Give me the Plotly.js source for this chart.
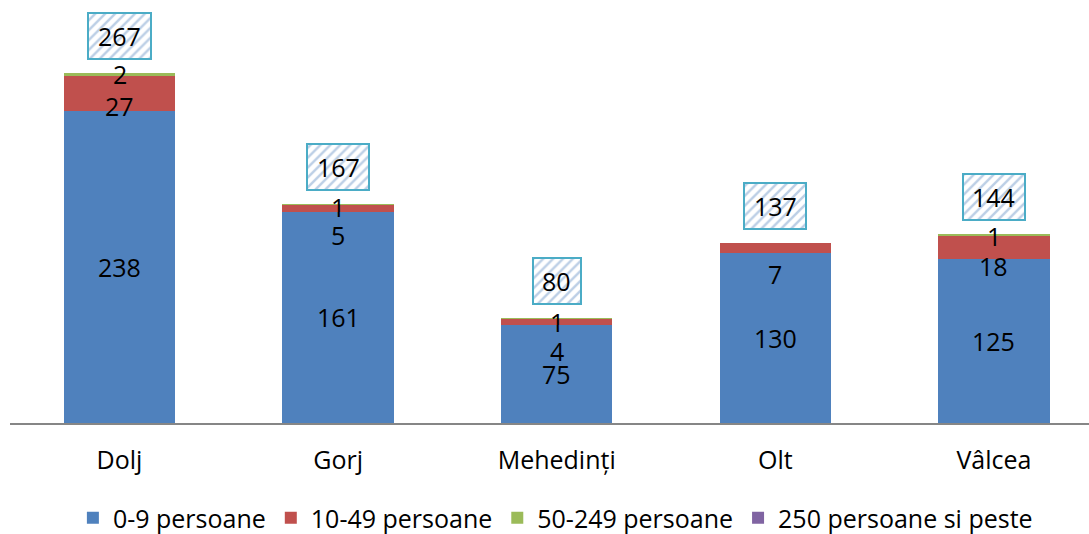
<!DOCTYPE html>
<html>
<head>
<meta charset="utf-8">
<script src="https://cdn.plot.ly/plotly-3.0.1.min.js"></script>
<style>html,body{margin:0;padding:0;background:#fff;}#chart{width:1089px;height:534px;}</style>
</head>
<body>
<div id="chart"></div>
<script>
// ---- data ----
const categories = ['Dolj', 'Gorj', 'Mehedinți', 'Olt', 'Vâlcea'];
const s0_9 = [238, 161, 75, 130, 125];
const s10_49 = [27, 5, 4, 7, 18];
const s50_249 = [2, 1, 1, 0, 1];
const s250 = [0, 0, 0, 0, 0];
const totals = [267, 167, 80, 137, 144];
const seriesNames = ['0-9 persoane', '10-49 persoane', '50-249 persoane', '250 persoane si peste'];

// ---- style ----
const colors = ['#4F81BD', '#C0504D', '#9BBB59', '#8064A2'];
const FONT = 'Open Sans, Liberation Sans, sans-serif';
const redShift = [-13, -26, -29, -26, -19];
const greenShift = [0, -2, -3, 0, -1.5];
const pxPerUnit = 1.3109;
const boxGap = 14 / pxPerUnit;
const boxH = 46 / pxPerUnit;

const series = [s0_9, s10_49, s50_249, s250];
const traces = series.map((vals, i) => ({
  type: 'bar',
  name: seriesNames[i],
  x: categories,
  y: vals,
  marker: { color: colors[i] },
  hoverinfo: 'x+y+name'
}));

// total boxes (hatched)
traces.push({
  type: 'bar',
  x: categories,
  y: totals.map(() => boxH),
  base: totals.map(t => t + boxGap),
  width: totals.map(t => String(t).length >= 3 ? 0.284 : 0.22),
  xaxis: 'x2',
  yaxis: 'y',
  showlegend: false,
  hoverinfo: 'skip',
  marker: {
    color: '#ffffff',
    line: { color: '#4BACC6', width: 2 },
    pattern: { shape: '/', fgcolor: '#bccfe6', bgcolor: '#ffffff', size: 7, solidity: 0.35 }
  }
});

const annotations = [];
categories.forEach((c, i) => {
  const base = { x: c, showarrow: false, font: { family: FONT, size: 25, color: '#000' }, xref: 'x', yref: 'y' };
  annotations.push(Object.assign({}, base, { y: s0_9[i] / 2, text: String(s0_9[i]) }));
  if (s10_49[i] > 0) annotations.push(Object.assign({}, base, { y: s0_9[i] + s10_49[i] / 2, text: String(s10_49[i]), yshift: redShift[i] }));
  if (s50_249[i] > 0) annotations.push(Object.assign({}, base, { y: s0_9[i] + s10_49[i] + s50_249[i] / 2, text: String(s50_249[i]), yshift: greenShift[i] }));
  annotations.push(Object.assign({}, base, { y: totals[i] + boxGap + boxH / 2, text: String(totals[i]) }));
});

const layout = {
  width: 1089,
  height: 534,
  margin: { l: 10, r: 0, t: 0, b: 111, autoexpand: false },
  paper_bgcolor: '#fff',
  plot_bgcolor: '#fff',
  barmode: 'stack',
  bargap: 0.49,
  showlegend: true,
  legend: {
    orientation: 'h', x: 0.51, xanchor: 'center', xref: 'container',
    y: 1 - 518 / 534, yanchor: 'middle', yref: 'container',
    font: { family: FONT, size: 25, color: '#000' }, traceorder: 'normal'
  },
  xaxis: {
    range: [-0.501, 4.435], automargin: false,
    showline: true, linecolor: '#868686', linewidth: 1.5,
    ticks: '', showgrid: false, zeroline: false,
    tickfont: { family: FONT, size: 25, color: '#000' },
    ticklabelstandoff: 14
  },
  xaxis2: {
    overlaying: 'x', matches: 'x', range: [-0.501, 4.435], visible: false
  },
  yaxis: {
    range: [0, 322.7], visible: false, showgrid: false, zeroline: false, automargin: false
  },
  annotations: annotations
};

Plotly.newPlot('chart', traces, layout, { displayModeBar: false, staticPlot: true });
</script>
</body>
</html>
